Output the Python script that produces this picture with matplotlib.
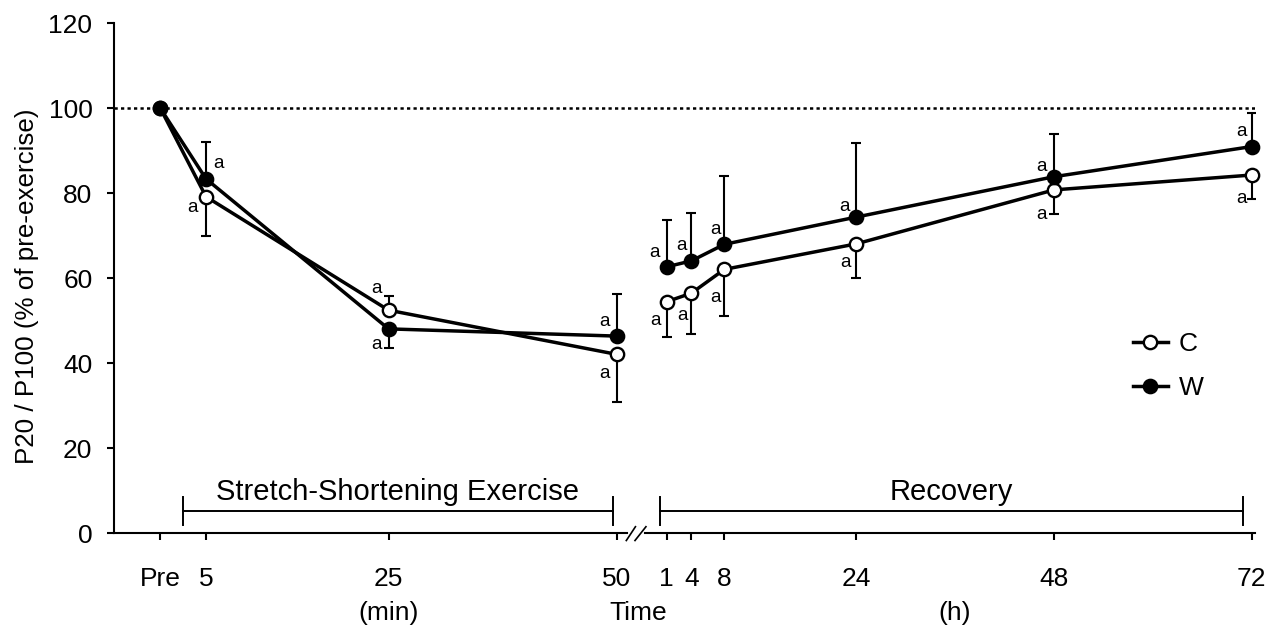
import matplotlib
matplotlib.use("Agg")
import matplotlib.pyplot as plt
from matplotlib.lines import Line2D
import numpy as np

plt.rcParams['font.family'] = ['Liberation Sans', 'DejaVu Sans']

# ---------------- data ----------------
minute_times = [0, 5, 25, 50]          # Pre = 0 min
hour_times = [1, 4, 8, 24, 48, 72]
tick_labels = ["Pre", "5", "25", "50", "1", "4", "8", "24", "48", "72"]

C_mean = [100, 79.2, 52.5, 42.1, 54.5, 56.5, 62.1, 68.1, 80.8, 84.3]
C_sd = [0, 9.2, 3.3, 11.3, 8.2, 9.6, 10.9, 8.1, 5.7, 5.7]
C_side = [0, -1, 1, -1, -1, -1, -1, -1, -1, -1]   # error bar direction

W_mean = [100, 83.4, 48.1, 46.4, 62.7, 64.1, 68.0, 74.4, 83.9, 91.0]
W_sd = [0, 8.7, 4.4, 9.9, 11.0, 11.3, 16.1, 17.5, 10.1, 7.8]
W_side = [0, 1, -1, 1, 1, 1, 1, 1, 1, 1]

C_sig = ["", "a", "a", "a", "a", "a", "a", "a", "a", "a"]
W_sig = ["", "a", "a", "a", "a", "a", "a", "a", "a", "a"]

# ---------------- layout (broken time axis) ----------------
HOUR_OFFSET = 54.57
HOUR_SCALE = 0.9028


def hx(h):
    return HOUR_OFFSET + HOUR_SCALE * np.asarray(h, dtype=float)


x = np.concatenate([np.asarray(minute_times, dtype=float), hx(hour_times)])

W_, H_ = 1270, 631
fig = plt.figure(figsize=(W_ / 100, H_ / 100), dpi=100)
ax_l, ax_r, ax_t, ax_b = 114, 1255, 23.3, 533.3
ax = fig.add_axes([ax_l / W_, 1 - ax_b / H_, (ax_r - ax_l) / W_, (ax_b - ax_t) / H_])
ax.set_xlim(-5.08, 119.93)
ax.set_ylim(0, 120)

FS = 19


def yerr(sd, side):
    sd = np.asarray(sd, float)
    side = np.asarray(side)
    lo = np.where(side < 0, sd, 0)
    hi = np.where(side > 0, sd, 0)
    return [lo, hi]


# reference line
ax.axhline(100, color='black', lw=1.8, ls=(0, (1.3, 1.3)), zorder=1)

segments = [slice(0, 4), slice(4, 10)]
for mean, sd, side, face in [(C_mean, C_sd, C_side, 'white'), (W_mean, W_sd, W_side, 'black')]:
    mean = np.asarray(mean, float)
    e = yerr(sd, side)
    mask = np.asarray(sd) > 0
    ax.errorbar(x[mask], mean[mask], yerr=[e[0][mask], e[1][mask]], fmt='none',
                ecolor='black', elinewidth=1.5, capsize=3.8, capthick=1.5, zorder=2)
    for s in segments:
        ax.plot(x[s], mean[s], color='black', lw=2.5, marker='o', ms=9.6,
                mfc=face, mec='black', mew=1.7, zorder=3, clip_on=False)

# significance letters (offsets in pixels)
C_off = [(0, 0), (-14, -11), (-12, 22), (-12, -19), (-11, -19), (-9, -22), (-9, -28),
         (-11, -19), (-12, -25), (-10, -23)]
W_off = [(0, 0), (12, 15), (-12, -16), (-12, 15), (-12, 14), (-10, 15), (-9, 15),
         (-12, 11), (-12, 10), (-10, 15)]
for mean, sig, off in [(C_mean, C_sig, C_off), (W_mean, W_sig, W_off)]:
    for xi, yi, s, o in zip(x, mean, sig, off):
        if s:
            ax.annotate(s, (xi, yi), xytext=o, textcoords='offset pixels',
                        ha='center', va='center', fontsize=13.5)

# axes styling
for sp in ['top', 'right', 'bottom']:
    ax.spines[sp].set_visible(False)
ax.spines['left'].set_linewidth(1.5)
ax.set_yticks([0, 20, 40, 60, 80, 100, 120])
ax.tick_params(axis='y', direction='out', length=5, width=1.5, labelsize=FS, pad=10.5)
ax.set_xticks(x)
ax.set_xticklabels(tick_labels)
ax.tick_params(axis='x', direction='out', length=5, width=1.5, labelsize=FS, pad=19)

# broken x axis line
brk_l, brk_r = 51.1, 53.1
ax.plot([-5.08, brk_l], [0, 0], color='black', lw=1.5, clip_on=False, zorder=4)
ax.plot([brk_r, 119.93], [0, 0], color='black', lw=1.5, clip_on=False, zorder=4)
ax.plot([51.05, 52.05], [-1.7, 1.55], color='black', lw=1.2, clip_on=False)
ax.plot([52.0, 53.2], [-1.7, 1.55], color='black', lw=1.2, clip_on=False)

ax.set_ylabel("P20 / P100 (% of pre-exercise)", fontsize=18.7)
ax.yaxis.set_label_coords(-0.066, 0.485)

# lower labels
for label, xv in [("(min)", 25), ("Time", 52.3), ("(h)", float(hx(36)))]:
    ax.annotate(label, (xv, 0), xycoords=('data', 'data'), xytext=(0, -(613 - ax_b)),
                textcoords='offset pixels', ha='center', va='center', fontsize=FS,
                annotation_clip=False)

# phase brackets
br_y, br_lo, br_hi = 5.2, 2.05, 8.5
for (x0, x1), txt in [((2.51, 49.56), "Stretch-Shortening Exercise"),
                      ((54.74, 118.6), "Recovery")]:
    ax.plot([x0, x1], [br_y, br_y], color='black', lw=1.4)
    ax.plot([x0, x0], [br_lo, br_hi], color='black', lw=1.4)
    ax.plot([x1, x1], [br_lo, br_hi], color='black', lw=1.4)
    ax.text((x0 + x1) / 2, 9.8, txt, ha='center', va='center', fontsize=21)

# legend
handles = [Line2D([], [], color='black', lw=2.5, marker='o', ms=9.6, mfc='white', mec='black', mew=1.7),
           Line2D([], [], color='black', lw=2.5, marker='o', ms=9.6, mfc='black', mec='black', mew=1.7)]
ax.legend(handles, ["C", "W"], loc='center left', bbox_to_anchor=(0.893, 0.328),
          frameon=False, fontsize=FS, handlelength=1.33, handletextpad=0.4,
          labelspacing=0.75, borderpad=0, borderaxespad=0)

fig.savefig("out.png", dpi=100)
